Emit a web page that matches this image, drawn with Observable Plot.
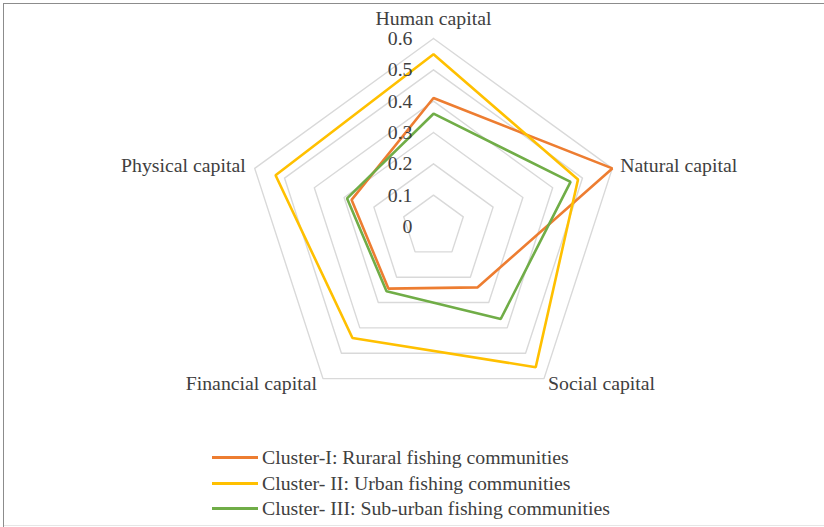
<!DOCTYPE html>
<html>
<head>
<meta charset="utf-8">
<script src="https://cdn.jsdelivr.net/npm/d3@7"></script>
<script src="https://cdn.jsdelivr.net/npm/@observablehq/plot@0.6"></script>
<style>
  html, body { margin: 0; padding: 0; background: #fff; }
  #wrap { position: relative; width: 824px; height: 527px; overflow: hidden; font-family: "Liberation Serif", "DejaVu Serif", serif; color: #404040; }
  #frameTop { position: absolute; left: 4px; top: 3px; width: 820px; height: 0; border-top: 1.5px solid #8c8c8c; }
  #frameLeft { position: absolute; left: 3px; top: 3px; width: 0; height: 524px; border-left: 1.5px solid #8c8c8c; }
  #frameBottom { position: absolute; left: 4px; top: 525px; width: 820px; height: 0; border-top: 1px solid #e6e6e6; }
  #chart svg { display: block; }
  #legend { position: absolute; left: 212px; top: 445px; font-size: 19.8px; line-height: 25.5px; }
  .row { display: flex; align-items: center; white-space: nowrap; }
  .swatch { width: 46px; height: 0; border-top: 3px solid; margin-right: 4px; }
</style>
</head>
<body>
<div id="wrap">
  <div id="chart"></div>
  <div id="legend"></div>
  <div id="frameTop"></div>
  <div id="frameLeft"></div>
  <div id="frameBottom"></div>
</div>
<script>
// Capital dimensions, clockwise from the top
const categories = ["Human capital", "Natural capital", "Social capital", "Financial capital", "Physical capital"];

const seriesNames = [
  "Cluster-I: Ruraral fishing communities",
  "Cluster- II: Urban fishing communities",
  "Cluster- III: Sub-urban fishing communities"
];
const seriesColors = ["#ED7D31", "#FFC000", "#70AD47"];

// Index scores per cluster, in the order of categories
const clusterI   = [0.41, 0.60, 0.24, 0.245, 0.275];
const clusterII  = [0.55, 0.485, 0.555, 0.44, 0.53];
const clusterIII = [0.36, 0.46, 0.365, 0.255, 0.29];

const tickValues = [0, 0.1, 0.2, 0.3, 0.4, 0.5, 0.6];
const tickLabels = ["0", "0.1", "0.2", "0.3", "0.4", "0.5", "0.6"];

const seriesValues = [clusterI, clusterII, clusterIII];

// polar → cartesian (data units), angle measured clockwise from the top
const n = categories.length;
const ang = i => (2 * Math.PI * i) / n;
const px = (i, v) => v * Math.sin(ang(i));
const py = (i, v) => v * Math.cos(ang(i));

const rings = [];
for (const lvl of tickValues.filter(t => t > 0)) {
  for (let i = 0; i <= n; i++) rings.push({ lvl, x: px(i % n, lvl), y: py(i % n, lvl) });
}

const points = [];
seriesValues.forEach((vals, s) => {
  vals.forEach((v, i) => points.push({ series: seriesNames[s], x: px(i, v), y: py(i, v) }));
});

const maxV = 0.6;
const labelData = categories.map((c, i) => ({ c, i, x: px(i, maxV), y: py(i, maxV) }));
const ticks = tickValues.map((t, k) => ({ label: tickLabels[k], x: 0, y: t }));

// chart geometry
const W = 824, H = 440, cx = 433, cy = 226, rOuter = 188;
const k = rOuter / maxV;

const anchorFor = i => (i === 0 ? "middle" : (i === 1 || i === 2) ? "start" : "end");
const dxFor = [0, 8, 4, -6, -9];
const dyFor = [-20, -3, 5, 5, -3];
const FS = 19.8;

const chart = Plot.plot({
  width: W,
  height: H,
  margin: 0,
  x: { domain: [-cx / k, (W - cx) / k], axis: null },
  y: { domain: [-(H - cy) / k, cy / k], axis: null },
  color: { domain: seriesNames, range: seriesColors },
  style: { fontFamily: "'Liberation Serif', 'DejaVu Serif', serif", color: "#404040", background: "transparent" },
  marks: [
    Plot.line(rings, { x: "x", y: "y", z: "lvl", stroke: "#d9d9d9", strokeWidth: 1.4 }),
    Plot.line(points, { x: "x", y: "y", z: "series", stroke: "series", strokeWidth: 2.6, curve: "linear-closed", strokeLinejoin: "miter" }),
    Plot.text(ticks, { x: "x", y: "y", text: "label", textAnchor: "end", dx: -21, fontSize: FS, fill: "#404040" }),
    ...labelData.map(d => Plot.text([d], { x: "x", y: "y", text: "c", textAnchor: anchorFor(d.i), dx: dxFor[d.i], dy: dyFor[d.i], fontSize: FS, fill: "#404040" }))
  ]
});
document.getElementById("chart").appendChild(chart);

// legend
const legend = document.getElementById("legend");
seriesNames.forEach((name, s) => {
  const row = document.createElement("div");
  row.className = "row";
  const sw = document.createElement("span");
  sw.className = "swatch";
  sw.style.borderTopColor = seriesColors[s];
  const tx = document.createElement("span");
  tx.textContent = name;
  row.appendChild(sw);
  row.appendChild(tx);
  legend.appendChild(row);
});
</script>
</body>
</html>
